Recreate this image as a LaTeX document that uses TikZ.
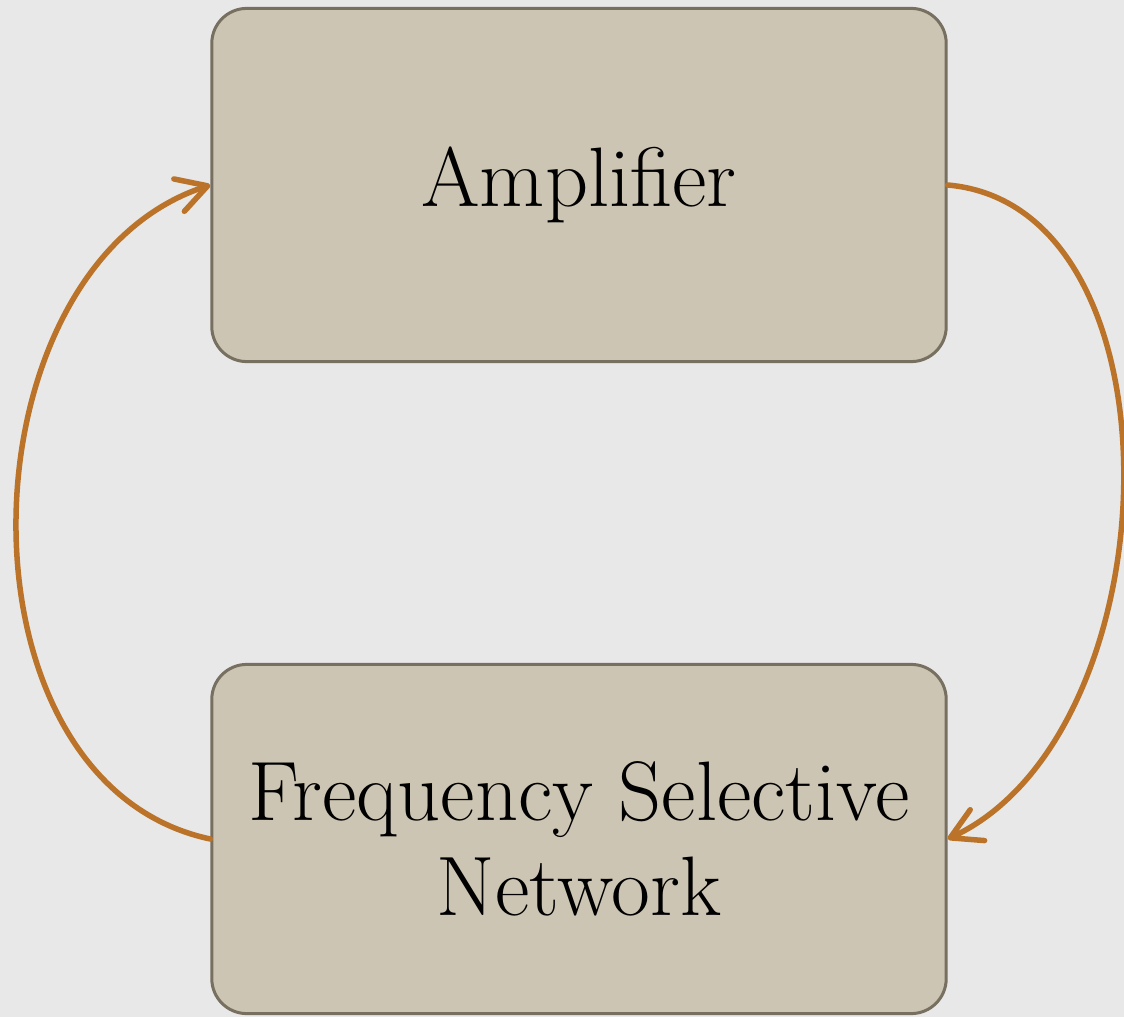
\documentclass[tikz,border=0pt]{standalone}
\usetikzlibrary{arrows.meta}
\definecolor{bg}{RGB}{232,232,232}
\definecolor{boxfill}{RGB}{204,197,179}
\definecolor{boxline}{RGB}{119,112,96}
\definecolor{arrowc}{RGB}{186,115,40}
\begin{document}
\begin{tikzpicture}[x=0.01cm,y=0.01cm,
  blk/.style={draw=boxline, fill=boxfill, line width=0.03cm, rounded corners=0.35cm,
    minimum width=7.34cm, align=center, inner sep=0pt,
    font=\fontsize{24}{27}\selectfont},
  loop/.style={draw=arrowc, line width=0.055cm, line cap=round,
    -{Straight Barb[length=0.3cm,width=0.34cm,line cap=round,line join=round]}}]
\fill[bg] (0,0) rectangle (1124,1017);
\useasboundingbox (0,0) rectangle (1124,1017);
\node[blk, minimum height=3.53cm] (amp) at (579,832) {Amplifier};
\node[blk, minimum height=3.49cm] (fsn) at (579,178) {Frequency Selective\\Network};
\draw[loop] (amp.east) .. controls +(-5:2.42cm) and +(25:2.5cm) .. (fsn.east);
\draw[loop] (fsn.west) .. controls +(168:2.7cm) and +(198:2.65cm) .. (amp.west);
\end{tikzpicture}
\end{document}
